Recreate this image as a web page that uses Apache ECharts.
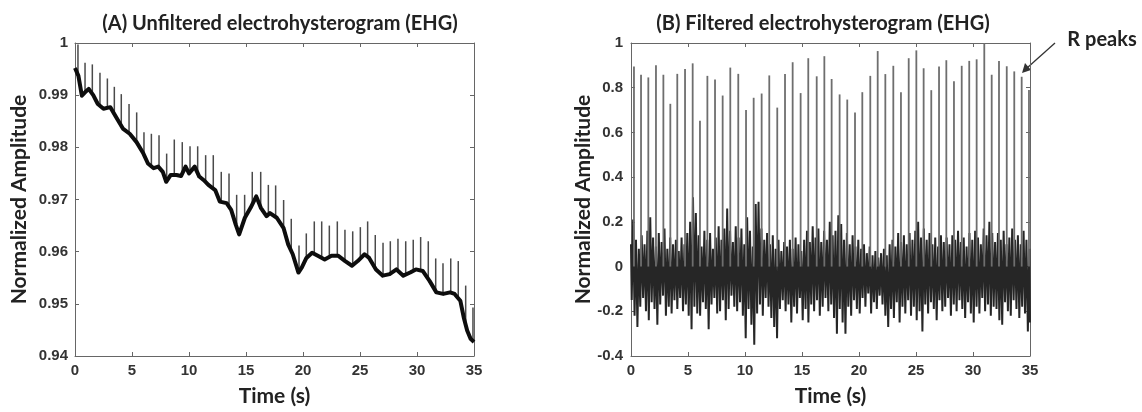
<!DOCTYPE html>
<html>
<head>
<meta charset="utf-8">
<script src="https://cdn.jsdelivr.net/npm/echarts@6/dist/echarts.min.js"></script>
<style>
html,body{margin:0;padding:0;background:#fff;}
#chart{width:1142px;height:412px;}
</style>
</head>
<body>
<div id="chart"></div>
<script>
// ---------- DATA ----------
const xTicks = [0, 5, 10, 15, 20, 25, 30, 35];
const titleA = '(A) Unfiltered electrohysterogram (EHG)';
const titleB = '(B) Filtered electrohysterogram (EHG)';
const yName = 'Normalized Amplitude';
const xName = 'Time (s)';
const noteText = 'R peaks';

// R-peak times (s), shared by both panels
const peakTimes = [0.26, 0.88, 1.52, 2.19, 2.84, 3.45, 4.06, 4.74, 5.41, 6.05,
  6.70, 7.37, 8.04, 8.71, 9.41, 10.09, 10.76, 11.46, 12.13, 12.83,
  13.51, 14.18, 14.88, 15.55, 16.29, 16.96, 17.60, 18.30, 18.97, 19.65,
  20.29, 20.99, 21.64, 22.31, 23.01, 23.68, 24.36, 25.03, 25.67, 26.34,
  27.02, 27.66, 28.33, 29.01, 29.67, 30.32, 30.99, 31.64, 32.28, 32.96,
  33.62, 34.27, 34.91];

// Panel A: unfiltered baseline
const baseTimesA = [0.0, 0.3, 0.6, 0.9, 1.2, 1.6, 2.0, 2.5, 3.1, 3.6, 4.2, 4.8, 5.4, 6.0, 6.4, 6.9, 7.3, 7.7, 8.0, 8.4,
  8.9, 9.3, 9.7, 10.0, 10.5, 10.9, 11.3, 11.7, 12.3, 12.7, 13.3, 13.7, 14.1, 14.4, 14.9, 15.4, 15.9, 16.3, 16.8, 17.1,
  17.7, 18.3, 18.7, 19.1, 19.6, 19.9, 20.3, 20.8, 21.3, 21.9, 22.5, 23.1, 23.7, 24.3, 24.8, 25.4, 25.8, 26.4, 27.0, 27.6,
  28.2, 28.8, 29.4, 29.9, 30.5, 31.1, 31.7, 32.3, 32.9, 33.3, 33.8, 34.1, 34.4, 34.7, 35.0];
const baseValuesA = [0.9952, 0.9937, 0.9899, 0.9906, 0.9912, 0.9900, 0.9883, 0.9874, 0.9877, 0.9858, 0.9836, 0.9826, 0.9810, 0.9788, 0.9769, 0.9760, 0.9763, 0.9753, 0.9734, 0.9747,
  0.9747, 0.9745, 0.9763, 0.9750, 0.9763, 0.9744, 0.9737, 0.9728, 0.9718, 0.9696, 0.9693, 0.9680, 0.9652, 0.9633, 0.9665, 0.9684, 0.9706, 0.9684, 0.9668, 0.9674,
  0.9665, 0.9645, 0.9614, 0.9595, 0.9560, 0.9570, 0.9588, 0.9598, 0.9592, 0.9585, 0.9592, 0.9592, 0.9582, 0.9573, 0.9582, 0.9595, 0.9588, 0.9566, 0.9554, 0.9557,
  0.9566, 0.9554, 0.9560, 0.9566, 0.9563, 0.9544, 0.9522, 0.9519, 0.9522, 0.9519, 0.9506, 0.9474, 0.9449, 0.9433, 0.9427];
// Panel A: spike feet and tops
const spikeBaseA = [0.9937, 0.9906, 0.9902, 0.9880, 0.9876, 0.9864, 0.9840, 0.9827, 0.9810, 0.9786,
  0.9763, 0.9761, 0.9736, 0.9747, 0.9750, 0.9752, 0.9750, 0.9734, 0.9721, 0.9695,
  0.9687, 0.9647, 0.9664, 0.9690, 0.9686, 0.9671, 0.9667, 0.9645, 0.9601, 0.9562,
  0.9588, 0.9596, 0.9588, 0.9590, 0.9592, 0.9582, 0.9574, 0.9588, 0.9590, 0.9568,
  0.9554, 0.9558, 0.9564, 0.9556, 0.9563, 0.9564, 0.9548, 0.9524, 0.9519, 0.9522,
  0.9512, 0.9460, 0.9428];
const spikeTopA = [0.9997, 0.9962, 0.9959, 0.9943, 0.9932, 0.9916, 0.9902, 0.9883, 0.9867, 0.9829,
  0.9826, 0.9823, 0.9788, 0.9815, 0.9810, 0.9802, 0.9802, 0.9785, 0.9785, 0.9753,
  0.9750, 0.9709, 0.9709, 0.9753, 0.9753, 0.9728, 0.9727, 0.9699, 0.9663, 0.9612,
  0.9635, 0.9658, 0.9658, 0.9650, 0.9658, 0.9642, 0.9639, 0.9647, 0.9658, 0.9632,
  0.9617, 0.9620, 0.9625, 0.9620, 0.9623, 0.9628, 0.9620, 0.9587, 0.9578, 0.9587,
  0.9582, 0.9535, 0.9493];

// Panel B: R-peak heights
const peakValuesB = [0.895, 0.858, 0.846, 0.900, 0.858, 0.728, 0.862, 0.884, 0.909, 0.652,
  0.853, 0.837, 0.765, 0.890, 0.862, 0.700, 0.755, 0.774, 0.855, 0.711,
  0.861, 0.914, 0.776, 0.932, 0.851, 0.941, 0.839, 0.770, 0.747, 0.689,
  0.780, 0.853, 0.964, 0.861, 0.898, 0.780, 0.932, 0.967, 0.887, 0.789,
  0.895, 0.923, 0.829, 0.898, 0.920, 0.927, 1.000, 0.858, 0.920, 0.896,
  0.873, 0.849, 0.790];
// Panel B: noise band extremes, one pair every 0.25 s from 0 to 35 s
const bandStep = 0.25;
const noiseUpperB = [
  0.10, 0.21, 0.12, 0.08, 0.14, 0.10, 0.16, 0.22,
  0.13, 0.09, 0.15, 0.11, 0.17, 0.08, 0.13, 0.10,
  0.12, 0.07, 0.13, 0.10, 0.15, 0.20, 0.31, 0.24,
  0.14, 0.09, 0.16, 0.12, 0.15, 0.08, 0.13, 0.18,
  0.12, 0.17, 0.26, 0.16, 0.11, 0.18, 0.13, 0.17,
  0.10, 0.22, 0.16, 0.09, 0.28, 0.29, 0.17, 0.12,
  0.15, 0.10, 0.14, 0.08, 0.12, 0.07, 0.11, 0.09,
  0.12, 0.08, 0.13, 0.10, 0.07, 0.12, 0.16, 0.11,
  0.18, 0.13, 0.17, 0.11, 0.16, 0.12, 0.20, 0.14,
  0.16, 0.23, 0.19, 0.12, 0.15, 0.10, 0.14, 0.09,
  0.12, 0.08, 0.10, 0.06, 0.09, 0.05, 0.07, 0.04,
  0.06, 0.08, 0.05, 0.10, 0.12, 0.09, 0.15, 0.11,
  0.14, 0.10, 0.15, 0.12, 0.16, 0.20, 0.13, 0.17,
  0.12, 0.15, 0.10, 0.13, 0.09, 0.14, 0.11, 0.13,
  0.10, 0.14, 0.12, 0.16, 0.11, 0.13, 0.09, 0.15,
  0.12, 0.16, 0.13, 0.10, 0.17, 0.14, 0.20, 0.15,
  0.11, 0.15, 0.12, 0.16, 0.10, 0.13, 0.17, 0.12,
  0.14, 0.10, 0.16, 0.12, 0.08];
const noiseLowerB = [
  -0.15, -0.22, -0.27, -0.18, -0.14, -0.20, -0.24, -0.16,
  -0.19, -0.26, -0.17, -0.13, -0.22, -0.18, -0.21, -0.15,
  -0.19, -0.14, -0.20, -0.17, -0.22, -0.28, -0.18, -0.21,
  -0.22, -0.16, -0.19, -0.28, -0.17, -0.14, -0.21, -0.20,
  -0.15, -0.24, -0.19, -0.13, -0.18, -0.20, -0.16, -0.22,
  -0.32, -0.19, -0.26, -0.35, -0.21, -0.17, -0.22, -0.14,
  -0.18, -0.23, -0.27, -0.32, -0.19, -0.15, -0.20, -0.17,
  -0.25, -0.18, -0.21, -0.14, -0.24, -0.19, -0.25, -0.17,
  -0.20, -0.15, -0.22, -0.18, -0.14, -0.20, -0.17, -0.23,
  -0.30, -0.19, -0.25, -0.30, -0.18, -0.22, -0.15, -0.19,
  -0.21, -0.14, -0.18, -0.12, -0.21, -0.16, -0.19, -0.13,
  -0.17, -0.22, -0.27, -0.19, -0.23, -0.16, -0.25, -0.18,
  -0.21, -0.15, -0.22, -0.18, -0.24, -0.20, -0.29, -0.17,
  -0.21, -0.16, -0.19, -0.24, -0.15, -0.20, -0.18, -0.14,
  -0.22, -0.17, -0.20, -0.15, -0.19, -0.23, -0.16, -0.21,
  -0.25, -0.18, -0.21, -0.14, -0.20, -0.17, -0.22, -0.18,
  -0.19, -0.24, -0.26, -0.16, -0.20, -0.22, -0.15, -0.19,
  -0.23, -0.18, -0.21, -0.29, -0.25];

// ---------- BUILD ----------
const chart = echarts.init(document.getElementById('chart'), null, {renderer: 'canvas'});

const baseA = baseTimesA.map((t, i) => [t, baseValuesA[i]]);
const spikesA = peakTimes.map((t, i) => [t, spikeBaseA[i], spikeTopA[i]]);
const spikesB = peakTimes.map((t, i) => [t, 0, peakValuesB[i]]);
const bandB = [];
noiseUpperB.forEach((u, i) => {
  const t = i * bandStep;
  bandB.push([Math.max(0, t - bandStep / 4), u]);
  bandB.push([Math.min(35, t + bandStep / 4), noiseLowerB[i]]);
});

const labelFont = {fontFamily: 'Liberation Sans', fontWeight: 'bold', fontSize: 15, color: '#333'};
const bigFont = 'Lato';
const nameFont = {fontFamily: bigFont, fontWeight: 'bold', fontSize: 21, color: '#222'};
const frameLine = {show: true, lineStyle: {color: '#666', width: 1}};
const tickStyle = {show: true, inside: true, length: 4, lineStyle: {color: '#666'}};

function xMain(grid) {
  return {type: 'value', gridIndex: grid, min: 0, max: 35, interval: 5, position: 'bottom',
    axisLine: Object.assign({onZero: false}, frameLine), axisTick: tickStyle,
    axisLabel: Object.assign({margin: 7}, labelFont), splitLine: {show: false},
    name: xName, nameLocation: 'middle', nameGap: 30, nameTextStyle: nameFont};
}
function xTop(grid) {
  return {type: 'value', gridIndex: grid, min: 0, max: 35, interval: 5, position: 'top',
    axisLine: Object.assign({onZero: false}, frameLine), axisTick: tickStyle,
    axisLabel: {show: false}, splitLine: {show: false}};
}
function yMain(grid, min, max, interval, gap, margin) {
  return {type: 'value', gridIndex: grid, min: min, max: max, interval: interval, position: 'left',
    axisLine: Object.assign({onZero: false}, frameLine), axisTick: tickStyle,
    axisLabel: Object.assign({margin: margin}, labelFont), splitLine: {show: false},
    name: yName, nameLocation: 'middle', nameGap: gap, nameTextStyle: nameFont};
}
function yRight(grid, min, max, interval) {
  return {type: 'value', gridIndex: grid, min: min, max: max, interval: interval, position: 'right',
    axisLine: Object.assign({onZero: false}, frameLine), axisTick: tickStyle,
    axisLabel: {show: false}, splitLine: {show: false}};
}

function spikeRenderer(color, width) {
  return function (params, api) {
    const p1 = api.coord([api.value(0), api.value(1)]);
    const p2 = api.coord([api.value(0), api.value(2)]);
    return {type: 'line', shape: {x1: p1[0], y1: p1[1], x2: p2[0], y2: p2[1]},
      style: {stroke: color, lineWidth: width}};
  };
}

const option = {
  animation: false,
  backgroundColor: '#fff',
  grid: [
    {left: 75, top: 43, width: 399, height: 317, containLabel: false},
    {left: 631, top: 43, width: 399, height: 317, containLabel: false}
  ],
  xAxis: [xMain(0), xTop(0), xMain(1), xTop(1)],
  yAxis: [yMain(0, 0.94, 1, 0.01, 45, 7), yRight(0, 0.94, 1, 0.01), yMain(1, -0.4, 1, 0.2, 37, 8), yRight(1, -0.4, 1, 0.2)],
  series: [
    {type: 'custom', xAxisIndex: 0, yAxisIndex: 0, data: spikesA, clip: true,
      encode: {x: 0, y: [1, 2]}, renderItem: spikeRenderer('#4a4a4a', 1.5), z: 2},
    {type: 'line', xAxisIndex: 0, yAxisIndex: 0, data: baseA, showSymbol: false, symbol: 'none',
      lineStyle: {color: '#0d0d0d', width: 4, join: 'round'}, z: 3},
    {type: 'line', xAxisIndex: 2, yAxisIndex: 2, data: bandB, showSymbol: false, symbol: 'none', sampling: null,
      lineStyle: {color: '#262626', width: 2}, z: 2},
    {type: 'custom', xAxisIndex: 2, yAxisIndex: 2, data: spikesB, clip: true,
      encode: {x: 0, y: [1, 2]}, renderItem: spikeRenderer('#6e6e6e', 1.8), z: 3}
  ],
  graphic: [
    {type: 'text', position: [280, 24], style: {text: titleA, textAlign: 'center', textVerticalAlign: 'middle',
      font: 'bold 20px ' + bigFont, fill: '#222'}},
    {type: 'text', position: [823, 24], style: {text: titleB, textAlign: 'center', textVerticalAlign: 'middle',
      font: 'bold 20px ' + bigFont, fill: '#222'}},
    {type: 'text', position: [1102, 40], style: {text: noteText, textAlign: 'center', textVerticalAlign: 'middle',
      font: 'bold 20px ' + bigFont, fill: '#222'}},
    {type: 'line', shape: {x1: 1055, y1: 43, x2: 1027, y2: 68}, style: {stroke: '#333', lineWidth: 1.3}},
    {type: 'polygon', shape: {points: [[1022, 73], [1025, 63], [1031, 70]]}, style: {fill: '#333'}}
  ]
};
chart.setOption(option);
</script>
</body>
</html>
